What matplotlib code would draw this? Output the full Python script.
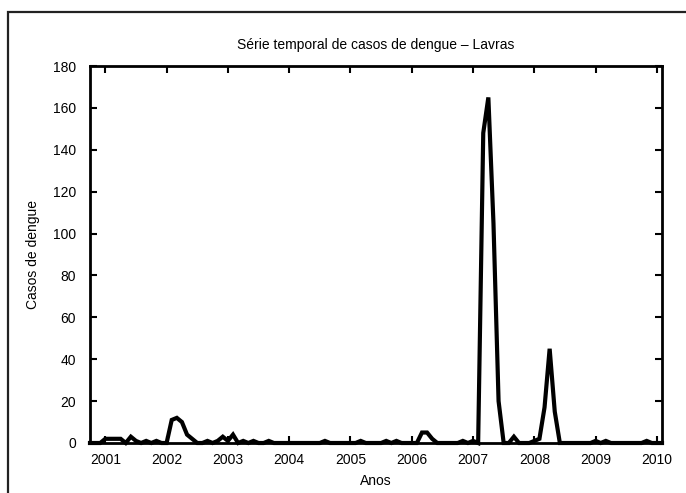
import matplotlib
matplotlib.use("Agg")
import matplotlib.pyplot as plt
from matplotlib.patches import Rectangle

plt.rcParams['font.family'] = ['Liberation Sans', 'DejaVu Sans']

# monthly cases, Oct 2000 .. Feb 2010
start_year = 2000
start_month = 10
casos = [0, 0, 0,
         2, 2, 2, 2, 0, 3, 1, 0, 1, 0, 1, 0,          # 2001
         0, 11, 12, 10, 4, 2, 0, 0, 1, 0, 1, 3,       # 2002
         1, 4, 0, 1, 0, 1, 0, 0, 1, 0, 0, 0,          # 2003
         0, 0, 0, 0, 0, 0, 0, 1, 0, 0, 0, 0,          # 2004
         0, 0, 1, 0, 0, 0, 0, 1, 0, 1, 0, 0,          # 2005
         0, 0, 5, 5, 2, 0, 0, 0, 0, 0, 1, 0,          # 2006
         1, 0, 148, 165, 105, 20, 0, 0, 3, 0, 0, 0,   # 2007
         1, 2, 17, 45, 15, 0, 0, 0, 0, 0, 0, 0,       # 2008
         1, 0, 1, 0, 0, 0, 0, 0, 0, 0, 1, 0,          # 2009
         0, 0]                                        # 2010

anos = [start_year + (start_month - 1 + i) / 12.0 for i in range(len(casos))]
xticks = list(range(2001, 2011))
yticks = list(range(0, 181, 20))

fig = plt.figure(figsize=(6.86, 4.93), dpi=100)
ax = fig.add_axes([90/686, 1 - 443/493, 572/686, 377/493])

ax.plot(anos, casos, color='black', lw=3, clip_on=False, zorder=5,
        solid_joinstyle='miter')

ax.set_xlim(anos[0], anos[-1])
ax.set_ylim(0, 180)
ax.set_xticks(xticks)
ax.set_yticks(yticks)
ax.tick_params(direction='in', length=5, width=1.5, top=True, right=True,
               labelsize=10)
ax.tick_params(axis='y', pad=10)
ax.tick_params(axis='x', pad=7)
for s in ax.spines.values():
    s.set_linewidth(2)

ax.set_title('Série temporal de casos de dengue – Lavras', fontsize=10, pad=12)
ax.set_xlabel('Anos', fontsize=10, labelpad=5)
ax.set_ylabel('Casos de dengue', fontsize=10, labelpad=9)

# frame of the document around the chart
fig.add_artist(Rectangle((8/686, -0.1), 1.0, 1.1 - 12/493, transform=fig.transFigure,
                         fill=False, lw=1.6, edgecolor='#222222'))

fig.savefig('out.png', dpi=100)
